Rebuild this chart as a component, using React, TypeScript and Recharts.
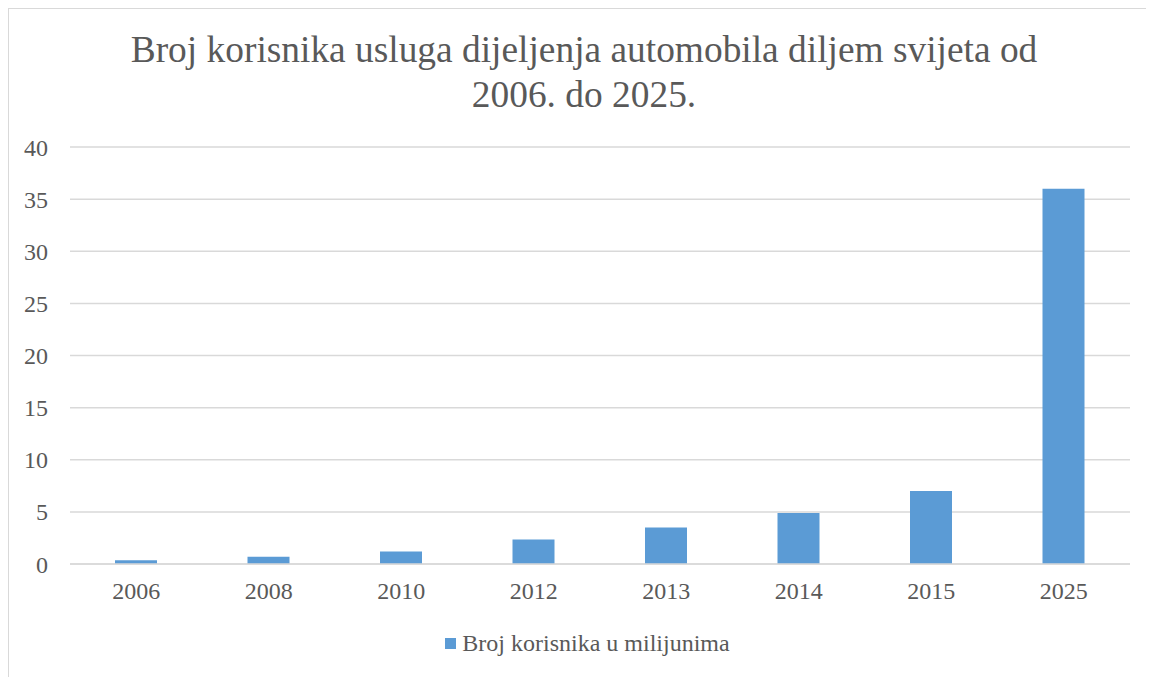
import React from "react";
import { BarChart, Bar, XAxis, YAxis, CartesianGrid, Legend } from "recharts";

const categories = ["2006", "2008", "2010", "2012", "2013", "2014", "2015", "2025"];
const users = [0.35, 0.7, 1.2, 2.35, 3.5, 4.9, 7.0, 36.0];
const yTicks = [0, 5, 10, 15, 20, 25, 30, 35, 40];
const seriesName = "Broj korisnika u milijunima";
const titleLines = ["Broj korisnika usluga dijeljenja automobila diljem svijeta od", "2006. do 2025."];

const data = categories.map((c, i) => ({ year: c, value: users[i] }));

const FONT = '"Liberation Serif", "Times New Roman", serif';
const TEXT = "#595959";
const GRID = "#d9d9d9";
const BAR = "#5b9bd5";

const LegendContent = () => (
  <div style={{ display: "flex", justifyContent: "center", alignItems: "center", fontFamily: FONT, fontSize: 24, lineHeight: "28px", color: TEXT, paddingLeft: 36 }}>
    <span style={{ display: "inline-block", width: 11, height: 11, background: BAR, marginRight: 6 }} />
    <span>{seriesName}</span>
  </div>
);

export default function App() {
  return (
    <div
      style={{
        position: "relative",
        width: 1146,
        height: 669,
        boxSizing: "border-box",
        borderLeft: `1px solid ${GRID}`,
        borderTop: `1px solid ${GRID}`,
        background: "#fff",
        overflow: "hidden",
      }}
    >
      <div
        style={{
          position: "absolute",
          top: 18,
          left: 0,
          width: 1150,
          textAlign: "center",
          fontFamily: FONT,
          fontSize: 37.4,
          lineHeight: "45px",
          color: TEXT,
        }}
      >
        {titleLines.map((l) => (
          <div key={l}>{l}</div>
        ))}
      </div>
      <BarChart
        width={1145}
        height={668}
        data={data}
        margin={{ top: 138, right: 24, left: 0, bottom: 55 }}
      >
        <CartesianGrid vertical={false} stroke={GRID} strokeWidth={1.5} />
        <XAxis
          dataKey="year"
          axisLine={{ stroke: GRID, strokeWidth: 1.5 }}
          tickLine={false}
          tickSize={0}
          tickMargin={18}
          tick={{ fill: TEXT, fontFamily: FONT, fontSize: 24 }}
          interval={0}
        />
        <YAxis
          width={61}
          domain={[0, 40]}
          ticks={yTicks}
          axisLine={false}
          tickLine={false}
          tickSize={0}
          tickMargin={22}
          tick={{ fill: TEXT, fontFamily: FONT, fontSize: 24 }}
        />
        <Legend
          verticalAlign="bottom"
          content={<LegendContent />}
          wrapperStyle={{ bottom: 20 }}
        />
        <Bar dataKey="value" name={seriesName} fill={BAR} barSize={42} isAnimationActive={false} />
      </BarChart>
    </div>
  );
}
